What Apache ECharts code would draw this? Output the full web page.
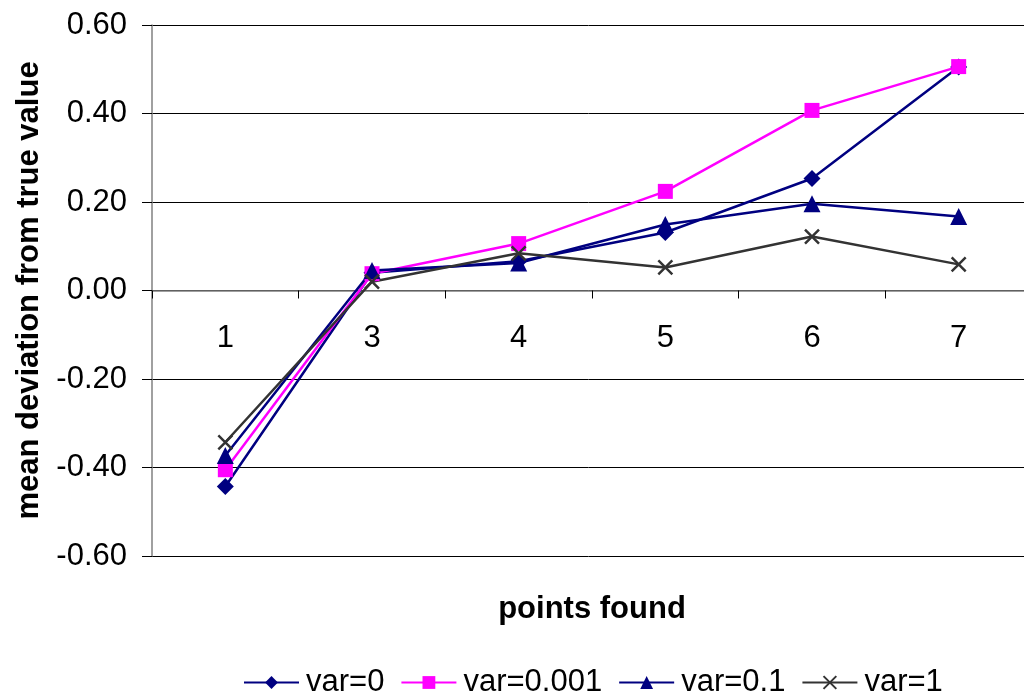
<!DOCTYPE html>
<html><head><meta charset="utf-8">
<script src="https://cdn.jsdelivr.net/npm/echarts@6/dist/echarts.min.js"></script>
<style>html,body{margin:0;padding:0;background:#fff}#c{width:1024px;height:698px}</style>
</head><body><div id="c"></div>
<script>
const categories = ['1','3','4','5','6','7'];
const var0 = [-0.443, 0.040, 0.066, 0.131, 0.253, 0.505];
const var0001 = [-0.405, 0.038, 0.106, 0.224, 0.407, 0.506];
const var01 = [-0.373, 0.045, 0.062, 0.149, 0.196, 0.167];
const var1 = [-0.343, 0.020, 0.084, 0.052, 0.122, 0.059];
const seriesNames = ['var=0','var=0.001','var=0.1','var=1'];

const font = '"Liberation Sans", Arial, sans-serif';
const chart = echarts.init(document.getElementById('c'), null, {renderer:'canvas'});
const XPATH = 'path://M0,0L10,10M10,0L0,10';
function mk(name, data, color, symbol, size){
  return {name, type:'line', data, symbol, symbolSize:size, showSymbol:true,
    lineStyle:{color, width:2.5}, itemStyle:{color, borderColor:color, borderWidth: symbol===XPATH?2.5:0},
    emphasis:{disabled:true}, animation:false, z: 3};
}
chart.setOption({
  animation:false,
  textStyle:{fontFamily:font},
  grid:{left:152, top:25, width:880, height:531, containLabel:false, outerBoundsMode:'none'},
  legend:{top:667, left:243, padding:0, itemWidth:55, itemHeight:16, itemGap:16,
    textStyle:{fontSize:31, color:'#000', fontFamily:font, padding:[0,0,0,2]},
    data:seriesNames},
  xAxis:{type:'category', data:categories, boundaryGap:true,
    name:'points found', nameLocation:'middle', nameGap:38,
    nameTextStyle:{fontSize:31, fontWeight:'bold', color:'#000', fontFamily:font},
    axisLine:{onZero:true, lineStyle:{color:'#808080', width:1.5}},
    axisTick:{show:true, inside:false, length:8, lineStyle:{color:'#000'}},
    axisLabel:{fontSize:31, color:'#000', margin:-233, fontFamily:font},
    splitLine:{show:false}},
  yAxis:{type:'value', min:-0.6, max:0.6, interval:0.2,
    name:'mean deviation from true value', nameLocation:'middle', nameGap:107,
    nameTextStyle:{fontSize:31, fontWeight:'bold', color:'#000', fontFamily:font},
    axisLine:{show:true, lineStyle:{color:'#808080', width:1.5}},
    axisTick:{show:true, inside:false, length:10, lineStyle:{color:'#000'}},
    axisLabel:{fontSize:31, color:'#000', margin:25, fontFamily:font, formatter:v=>v.toFixed(2)},
    splitLine:{show:true, lineStyle:{color:'#000', width:1}}},
  series:[
    mk('var=0', var0, '#000080', 'diamond', 17),
    mk('var=0.001', var0001, '#FF00FF', 'rect', 15),
    mk('var=0.1', var01, '#000080', 'triangle', 17),
    mk('var=1', var1, '#333333', XPATH, 14)
  ]
});
</script></body></html>
